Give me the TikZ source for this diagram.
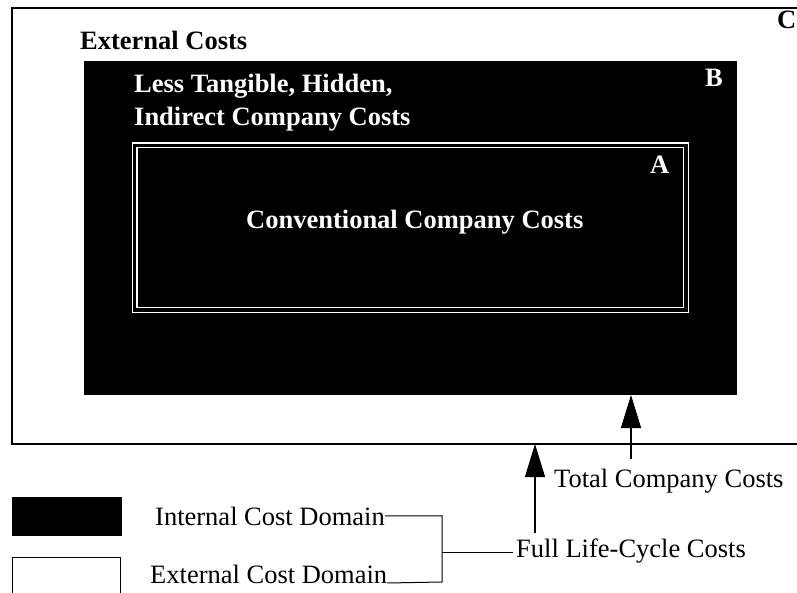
\documentclass[tikz,border=0pt]{standalone}
\usepackage{fontspec}
\setmainfont{Liberation Serif}
\usetikzlibrary{arrows.meta}
\begin{document}
\begin{tikzpicture}[x=1pt,y=-1pt,
  txt/.style={inner sep=0pt, anchor=base west, font=\fontsize{26.5}{32}\selectfont},
  btxt/.style={txt, font=\fontsize{26.5}{32}\selectfont\bfseries},
  wtxt/.style={btxt, text=white},
  box/.style={inner sep=0pt, outer sep=0pt, anchor=north west},
  pointer/.style={line width=1.2pt, -{Triangle[length=33pt,width=20pt]}},
  wire/.style={line width=1pt}]
\path[use as bounding box, clip] (0,0) rectangle (797,593);
\fill[white] (0,0) rectangle (797,593);
% C: external cost domain (runs past the right edge)
\node[box, draw, line width=1.3pt, minimum width=820pt, minimum height=436pt] (C) at (12,8) {};
% B: internal, less tangible costs
\node[box, fill=black, minimum width=653pt, minimum height=334pt] (B) at (84,61) {};
% A: conventional costs, double white frame
\node[box, draw=white, double=black, double distance=3.6pt, line width=1.2pt,
      minimum width=551.5pt, minimum height=164.5pt] (A) at (134.5,145.5) {};
% region labels
\node[btxt] (tC) at (80,50) {External Costs};
\node[wtxt] (tB1) at (134,93) {Less Tangible, Hidden,};
\node[wtxt] (tB2) at (134,126) {Indirect Company Costs};
\node[wtxt] (tA) at (246,229) {Conventional Company Costs};
\node[wtxt] (lA) at (650,174) {A};
\node[wtxt] (lB) at (705,87) {B};
\node[btxt] (lC) at (777,29) {C};
% legend
\node[box, fill=black, minimum width=110pt, minimum height=39pt] (kin) at (12,497) {};
\node[box, draw, line width=1pt, minimum width=108pt, minimum height=60pt] (kex) at (12,557) {};
\node[txt] (tin) at (155,525) {Internal Cost Domain};
\node[txt] (tex) at (150,583) {External Cost Domain};
\node[txt] (tfull) at (516,557) {Full Life-Cycle Costs};
\node[txt] (ttot) at (554,487) {Total Company Costs};
% bracket joining the two domains
\coordinate (bkb) at (442,582);
\draw[wire] (tin.east) -| (bkb) -- (tex.base east);
\draw[wire] (bkb |- 0,552) -- ([xshift=-3pt]tfull.west |- 0,552);
% pointers to the domain boundaries
\coordinate (fa) at (535,533);
\draw[pointer] (fa) -- (fa |- C.south);
\coordinate (ta) at (631,459);
\draw[pointer] (ta) -- (ta |- B.south);
\end{tikzpicture}
\end{document}
